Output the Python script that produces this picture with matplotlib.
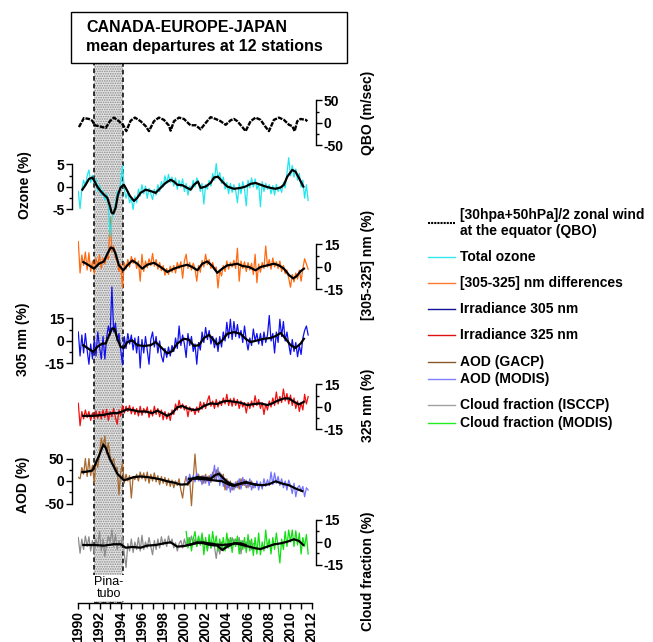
import numpy as np
import matplotlib
matplotlib.use("Agg")
import matplotlib.pyplot as plt
from matplotlib.patches import Rectangle
from matplotlib.lines import Line2D

plt.rcParams['font.family'] = ['Liberation Sans', 'DejaVu Sans']
plt.rcParams['hatch.linewidth'] = 0.8

# ---------------- data ----------------
years_ticks = list(range(1990, 2013, 2))

qbo_year = [1990.06,1990.53,1991.0,1991.32,1991.54,1991.95,1992.58,1992.98,1993.36,1993.83,
            1994.24,1994.52,1994.93,1995.34,1995.87,1996.35,1996.66,1997.13,1997.6,1998.07,
            1998.55,1998.7,1999.02,1999.49,1999.96,2000.43,2000.59,2001.06,2001.53,2002.0,
            2002.47,2002.94,2003.41,2003.89,2004.36,2004.67,2004.99,2005.46,2005.77,2006.24,
            2006.71,2007.18,2007.66,2007.97,2008.44,2008.91,2009.38,2009.86,2010.17,2010.39,
            2010.64,2010.95,2011.43,2011.59]
qbo_val = [-9,11,9,5,-5,-7,-11,4,12,4,
           -5,-18,5,12,4,-7,-18,4,12,7,
           -6,-17,4,12,9,-2,-5,-5,-14,0,
           13,9,4,-4,6,9,4,-9,-18,4,
           12,7,-9,-18,7,12,7,-4,-7,-18,
           4,9,7,4]

# raw series, one value every 2 months
ozone_start = 1990.0
ozone_raw = [-1.0,-4.8,-0.5,1.5,0.2,2.5, 3.8,1.0,2.6,0.8,1.8,-1.0, 0.5,-1.8,-0.8,-3.0,-1.5,-4.0,
             -11.0,-6.8,-5.5,-3.8,-1.0,-2.0, 1.2,4.8,-0.5,-2.5,-1.0,-3.5, -2.5,-5.0,-2.0,-3.5,-0.5,-2.0,
             0.5,-1.5,0.2,-2.5,-0.3,-1.5, -2.8,-0.5,-1.8,0.5,-1.0,1.2, 0.0,2.5,0.8,2.8,1.0,2.2,
             0.2,2.0,-0.5,1.5,0.0,1.8, -1.0,0.8,-1.8,0.2,-0.5,1.5, 0.0,2.0,1.0,-1.0,0.8,-3.8,
             0.5,-0.5,1.5,0.2,3.0,1.5, 5.2,2.0,3.2,0.8,2.2,-0.5, 1.0,-1.5,0.8,-1.2,0.5,-0.8,
             -3.5,0.8,-1.5,1.2,-0.5,-4.2, 1.5,-0.2,2.0,0.0,1.8,-0.5, 0.8,-4.4,1.2,-1.0,0.8,-0.5,
             0.5,-1.5,0.3,-1.8,0.6,-1.0, 0.0,-1.2,1.0,-0.2,3.0,6.5, 2.5,4.8,2.2,4.0,1.5,3.0,
             0.0,1.5,-2.5,0.5,-3.0]
ozone_smooth = [(1990.38,-0.6),(1990.69,0.5),(1991.01,1.8),(1991.32,2.1),(1991.54,1.2),(1991.79,0.1),
                (1992.10,-0.9),(1992.42,-1.7),(1992.73,-2.4),(1992.98,-4.2),(1993.14,-5.7),(1993.30,-5.9),
                (1993.52,-4.6),(1993.74,-1.7),(1993.99,-0.1),(1994.30,0.5),(1994.56,-0.6),(1994.87,-2.0),
                (1995.25,-3.1),(1995.56,-2.4),(1995.87,-1.3),(1996.35,-0.6),(1996.82,-0.9),(1997.29,-1.3),
                (1997.76,-0.2),(1998.23,0.9),(1998.70,1.6),(1999.02,1.2),(1999.33,0.5),(1999.80,0.4),
                (2000.27,-0.2),(2000.59,-0.6),(2000.90,0.5),(2001.28,1.2),(2001.53,-0.2),(2002.00,0.1),
                (2002.47,0.9),(2002.79,2.1),(2003.16,2.3),(2003.57,1.2),(2004.04,0.1),(2004.67,-0.4),
                (2005.30,-0.2),(2005.77,0.1),(2006.24,0.7),(2006.71,0.9),(2007.18,0.5),(2007.66,0.1),
                (2008.13,-0.2),(2008.60,-0.4),(2009.07,-0.1),(2009.38,0.5),(2009.70,2.3),(2010.17,3.8),
                (2010.48,3.4),(2010.80,2.0),(2011.21,0.1)]

diff_start = 1990.0
diff_raw = [17.0,-4.0,8.0,1.0,10.0,-2.0, 9.5,-3.0,4.0,-4.5,6.0,0.5, 8.0,-1.0,6.0,2.0,7.5,5.0,
            33.0,10.0,14.0,6.0,4.0,-3.0, 2.0,-14.0,3.0,-1.5,5.0,0.0, 7.0,2.5,6.0,-1.0,4.0,-9.5,
            8.5,-3.0,4.0,-0.5,5.5,1.0, 9.0,0.5,5.0,-1.5,3.0,-2.5, 1.0,-5.5,-1.0,-5.0,0.5,-3.5,
            1.0,-4.0,3.0,-1.0,3.5,-7.5, 4.0,8.5,-1.0,3.0,-2.0,2.5, -1.0,-9.5,1.0,-3.5,4.5,0.0,
            8.5,1.5,5.0,-1.0,3.0,-2.0, 0.0,-14.0,-2.0,-6.0,1.0,-3.0, 4.0,-1.5,3.0,0.0,4.5,-1.0,
            12.5,-9.5,4.0,-1.0,3.5,-3.0, 3.0,-2.0,2.5,-5.0,8.5,-10.5, 2.0,-3.5,3.0,-1.0,14.0,0.0,
            5.0,-1.5,6.0,0.0,3.5,-1.0, 4.0,-3.0,1.0,-4.5,-2.0,-7.5, -13.5,-5.0,-10.0,-4.0,-8.0,-2.0,
            -9.5,-1.0,5.5,2.0,-1.5]
diff_smooth = [(1990.47,3.3),(1991.01,1.1),(1991.48,-1.1),(1991.95,2.2),(1992.42,3.7),(1992.73,8.7),
               (1993.05,13.0),(1993.30,12.4),(1993.52,8.7),(1993.83,1.1),(1994.24,-2.2),(1994.62,1.1),
               (1995.09,4.3),(1995.56,2.2),(1996.03,-1.1),(1996.50,1.5),(1997.13,2.8),(1997.76,0.0),
               (1998.39,-3.3),(1999.02,-1.1),(1999.65,0.4),(2000.27,1.5),(2000.74,0.0),(2001.22,-2.2),
               (2001.69,2.2),(2002.16,3.7),(2002.63,0.7),(2003.10,-3.9),(2003.57,-1.1),(2004.04,1.1),
               (2004.51,1.5),(2004.99,2.2),(2005.46,0.7),(2006.09,0.0),(2006.71,-2.2),(2007.18,0.0),
               (2007.81,1.1),(2008.44,2.2),(2008.91,1.1),(2009.38,-1.1),(2009.86,-5.4),(2010.26,-7.6),
               (2010.58,-6.1),(2010.96,-2.8),(2011.27,-1.1)]

irr305_start = 1990.0
irr305_raw = [6.0,-10.0,4.0,-8.0,5.0,-6.0, -15.5,-2.0,-12.0,1.0,-10.0,6.0, -4.0,-12.0,3.0,-12.0,2.0,10.0,
              4.0,36.0,6.0,12.0,0.0,5.0, -6.0,-16.0,3.0,-5.0,5.0,-2.0, 4.0,-6.0,2.0,-8.0,3.0,-18.0,
              1.0,-8.0,3.0,-6.0,-15.5,1.0, 6.0,-4.0,3.0,-8.0,0.0,-10.0, -14.0,-5.0,-11.0,-4.0,-10.0,-3.0,
              -7.0,2.0,-5.0,10.0,-3.0,4.0, -2.0,-11.0,5.0,-3.0,3.0,-7.0, -2.0,-15.5,-1.0,-6.0,6.0,-1.0,
              9.0,1.0,7.0,-2.0,3.0,-4.5, 2.0,-7.0,3.0,-4.0,6.0,0.0, 12.5,2.0,14.5,1.0,13.0,3.0,
              11.0,2.0,7.0,-1.0,10.0,0.5, -6.0,2.0,-3.0,8.0,0.0,5.0, -2.0,5.0,-3.0,6.0,-1.0,4.0,
              17.0,0.0,5.0,-8.0,6.0,-1.0, 14.5,3.0,13.0,0.0,6.0,-2.0, -9.0,1.0,-7.0,-1.0,-10.5,-3.0,
              -9.0,2.0,7.0,10.0,4.0]
irr305_smooth = [(1990.47,-2.8),(1991.01,-5.4),(1991.41,-7.2),(1991.79,-3.9),(1992.26,-1.7),(1992.58,-1.7),
                 (1992.89,3.7),(1993.20,8.5),(1993.42,8.0),(1993.68,1.5),(1993.99,-3.9),(1994.30,-4.6),
                 (1994.62,-0.7),(1995.09,0.4),(1995.56,-2.8),(1996.19,-3.3),(1996.82,-2.8),(1997.29,-0.7),
                 (1997.76,-3.9),(1998.39,-8.3),(1998.86,-6.7),(1999.33,-1.7),(1999.96,1.5),(2000.43,0.9),
                 (2000.90,-3.3),(2001.37,-2.8),(2001.84,2.0),(2002.32,4.1),(2002.79,0.4),(2003.10,-2.4),
                 (2003.57,0.4),(2004.04,4.8),(2004.67,5.9),(2005.30,4.8),(2005.77,1.5),(2006.24,-0.7),
                 (2006.87,0.4),(2007.50,1.5),(2008.13,2.0),(2008.60,3.3),(2009.07,5.4),(2009.54,1.5),
                 (2010.01,-2.8),(2010.48,-4.6),(2010.96,-1.7),(2011.27,1.5)]

irr325_start = 1990.0
irr325_raw = [2.5,-12.5,-3.0,-8.0,-2.0,-7.0, -3.0,-9.0,-4.0,-8.0,-2.5,-7.5, -3.0,-8.0,-2.0,-7.0,-1.5,-9.0,
              -3.0,-6.5,-1.0,-7.0,-11.5,-2.0, -6.0,1.0,-4.0,0.5,-3.0,1.0, -4.5,0.0,-5.0,-1.0,-6.0,0.5,
              -5.5,-1.0,-4.0,0.0,-7.0,-2.0, -6.0,0.5,-5.0,-1.0,-6.5,-2.0, -8.5,-3.0,-8.0,-4.0,-9.0,-2.0,
              -5.0,2.0,-2.0,4.5,-1.0,2.0, -2.0,1.0,-6.5,0.0,-3.0,-1.0, -5.0,0.0,-3.5,3.5,-1.5,3.0,
              -1.0,4.0,7.5,0.5,4.0,-1.0, 5.0,0.0,4.0,1.0,6.0,2.0, 8.5,1.0,5.5,0.5,6.0,1.0,
              5.0,-1.0,4.0,0.0,3.0,-4.0, 3.0,-1.0,4.0,0.0,7.5,1.0, 5.0,-1.0,3.0,-5.0,2.0,-2.0,
              4.0,0.0,6.0,1.0,10.0,2.0, 7.0,3.0,12.0,4.0,9.0,2.0, 8.0,1.0,6.0,-1.0,4.0,-3.0,
              3.0,-2.0,8.5,2.0,7.0]
irr325_smooth = [(1990.47,-5.9),(1991.48,-5.9),(1992.42,-5.2),(1993.20,-4.1),(1993.68,-4.1),(1994.15,-3.0),
                 (1994.62,-1.5),(1995.09,-2.0),(1995.72,-3.0),(1996.35,-3.0),(1996.97,-4.1),(1997.45,-2.4),
                 (1997.92,-4.1),(1998.39,-5.9),(1998.86,-4.1),(1999.33,-0.2),(1999.80,0.7),(2000.27,-0.9),
                 (2000.90,-2.0),(2001.37,-1.5),(2001.84,0.7),(2002.47,2.4),(2003.10,2.0),(2003.57,3.5),
                 (2004.04,4.1),(2004.67,3.5),(2005.30,2.8),(2005.93,1.3),(2006.56,2.0),(2007.18,2.4),
                 (2007.81,1.3),(2008.28,2.4),(2008.76,4.1),(2009.38,5.7),(2009.86,5.7),(2010.33,3.5),
                 (2010.80,1.7),(2011.27,3.5)]

aod_gacp_start = 1990.0
aod_gacp_raw = [8.0,5.0,30.0,15.0,50.0,10.0, 50.0,12.0,35.0,-5.0,45.0,30.0, 60.0,95.0,75.0,100.0,60.0,85.0,
                55.0,40.0,50.0,25.0,30.0,-30.0, 20.0,41.0,-5.0,15.0,0.0,12.0, -38.0,10.0,3.0,15.0,0.0,20.0,
                5.0,18.0,0.0,20.0,-5.0,15.0, 0.0,18.0,-2.0,12.0,-8.0,10.0, -5.0,8.0,-10.0,5.0,-12.0,2.0,
                -15.0,0.0,-10.0,5.0,-20.0,-38.0, -5.0,10.0,-10.0,2.0,-55.0,5.0, 60.0,5.0,15.0,0.0,12.0,-5.0,
                15.0,0.0,12.0,-3.0,20.0,5.0, 25.0,10.0,20.0,0.0,15.0,-20.0, 5.0,-15.0,0.0,-20.0,-5.0,-15.0,
                0.0,-18.0,5.0,-10.0,3.0,-15.0, -5.0,-12.0,0.0,-15.0]
aod_gacp_smooth = [(1990.38,19.6),(1990.85,21.0),(1991.32,23.2),(1991.54,34.0),(1991.95,56.0),(1992.36,81.0),
                   (1992.58,74.0),(1992.98,48.6),(1993.30,34.0),(1993.68,16.0),(1993.99,8.7),(1994.30,1.4),
                   (1994.78,5.1),(1995.25,8.7),(1995.87,10.1),(1996.50,8.7),(1997.13,6.5),(1997.76,3.6),
                   (1998.39,-0.7),(1999.02,-3.6),(1999.65,-8.0),(2000.27,-7.2),(2000.74,5.1),(2001.22,8.7),
                   (2001.84,7.2),(2002.47,5.1),(2002.94,13.8),(2003.26,15.9),(2003.57,8.7),(2004.04,-2.2),
                   (2004.67,-9.4),(2005.30,-5.8),(2005.77,-2.2),(2006.24,-5.8),(2006.71,-8.0)]

aod_modis_start = 2000.0 + 1/6
aod_modis_raw = [10.0,-5.0,15.0,0.0,12.0, -2.0,18.0,0.0,10.0,-8.0,12.0, -5.0,10.0,-10.0,15.0,5.0,35.0,
                 0.0,30.0,-10.0,15.0,-12.0,5.0, -20.0,0.0,-25.0,-5.0,-20.0,-2.0, -15.0,5.0,-18.0,8.0,-10.0,2.0,
                 -15.0,5.0,-20.0,-5.0,-15.0,0.0, -20.0,-2.0,-18.0,5.0,-12.0,3.0, -10.0,20.0,-8.0,18.0,-5.0,10.0,
                 -10.0,5.0,-15.0,0.0,-20.0,2.0, -10.0,-28.0,-5.0,-35.0,-15.0,-10.0, -22.0,-12.0,-35.0,-15.0,-20.0]
aod_modis_smooth = [(2000.43,5.0),(2001.22,5.0),(2002.00,3.6),(2002.79,1.4),(2003.57,-0.7),(2004.20,-8.0),
                    (2004.67,-10.9),(2005.30,-5.8),(2005.93,-3.6),(2006.71,-8.0),(2007.34,-9.4),(2007.97,-7.2),
                    (2008.60,-0.7),(2009.23,-5.8),(2009.86,-9.4),(2010.48,-16.7),(2011.11,-22.5)]

cloud_isccp_start = 1990.0
cloud_isccp_raw = [3.0,-7.5,2.0,-5.0,4.0,-3.0, 3.5,-6.0,1.0,-8.0,2.0,-3.0, 7.0,-6.0,2.0,-9.5,-2.0,4.0,
                   0.0,8.0,-3.0,5.0,-5.0,1.0, -3.0,4.0,-8.0,-17.0,-1.0,-6.0, 2.0,-7.0,0.0,-5.0,3.0,-6.0,
                   4.5,-5.0,0.0,-4.0,3.0,-3.0, -8.5,1.0,-5.0,2.0,-4.0,3.5, -2.0,2.0,-3.0,4.0,-1.0,2.0,
                   -4.0,-0.5,-6.0,-1.0,1.0,-4.0, 2.0,-3.0,3.0,-2.0,4.0,-1.0, 2.0,-3.0,3.0,-2.0,4.0,-1.0,
                   1.0,-5.0,2.0,-4.0,0.0,-3.0, -11.0,-2.0,-8.0,0.0,-6.0,-1.0, -4.0,2.0,-3.0,3.0,-2.0,2.0,
                   -1.0,3.0,-8.0,1.0,-4.0,0.0, -3.0,1.0,-5.0,-1.0]
cloud_isccp_smooth = [(1990.47,-2.0),(1991.48,-2.0),(1992.42,-2.4),(1993.36,-1.5),(1993.99,-1.5),(1994.46,-3.8),
                      (1995.09,-3.3),(1995.87,-3.8),(1996.50,-2.4),(1997.29,-2.0),(1998.07,-0.9),(1998.70,-0.2),
                      (1999.33,-3.1),(1999.96,-2.7),(2000.59,-1.6),(2001.22,-0.2),(2001.84,-0.9),(2002.47,-2.0),
                      (2003.10,-2.4),(2003.57,-5.3),(2004.04,-3.1),(2004.67,-0.9),(2005.30,-0.9),(2005.77,-2.0)]

cloud_modis_start = 2000.0 + 1/6
cloud_modis_raw = [7.0,-4.0,3.0,-6.0,2.0, 7.0,-3.0,4.0,-2.0,6.0,-8.5, 3.0,-6.0,5.0,-4.0,7.0,-3.0,
                   4.0,-6.0,2.0,-5.0,3.0,-6.0, 6.0,-4.0,3.0,-7.0,2.0,-3.0, 4.0,-8.0,1.0,-5.0,3.0,-7.0,
                   5.0,-6.0,2.0,-9.0,3.0,-8.0, 6.0,-8.5,0.0,-6.0,8.0,-4.0, 2.0,-8.0,3.0,-5.0,6.0,-3.0,
                   -14.0,2.0,-5.0,7.0,-3.0,8.0, 0.0,8.0,-3.0,7.5,-2.0,6.0, -8.0,3.0,-3.0,5.0,-8.0]
cloud_modis_smooth = [(2000.43,-2.0),(2001.06,-0.9),(2001.69,-0.2),(2002.32,-0.9),(2002.94,-1.6),(2003.57,-2.0),
                      (2004.20,-1.6),(2004.83,-0.9),(2005.46,-2.0),(2006.09,-3.1),(2006.71,-4.2),(2007.18,-4.7),
                      (2007.81,-3.1),(2008.44,-1.6),(2009.07,-0.9),(2009.70,0.2),(2010.33,1.8),(2010.80,0.7),
                      (2011.21,-2.0)]

pinatubo = (1991.5, 1994.25)

legend_entries = [
    ("[30hpa+50hPa]/2 zonal wind\nat the equator (QBO)", "black", 223, "qbo"),
    ("Total ozone", "#33e8f0", 257, None),
    ("[305-325] nm differences", "#ff7a30", 283, None),
    ("Irradiance 305 nm", "#10109a", 309, None),
    ("Irradiance 325 nm", "#e01010", 335, None),
    ("AOD (GACP)", "#8a5a2a", 362, None),
    ("AOD (MODIS)", "#8080ff", 379, None),
    ("Cloud fraction (ISCCP)", "#a0a0a0", 405, None),
    ("Cloud fraction (MODIS)", "#22ee22", 423, None),
]

# ---------------- figure ----------------
W, H = 653, 642
fig = plt.figure(figsize=(W / 100, H / 100), dpi=100)

def fx(px):
    return px / W

def fy(py):
    return 1 - py / H

X0, X1 = 78.3, 311.7   # pixel columns of 1990 and 2012
TOP, BOT = 63, 603

# base axes with the time axis and the Pinatubo band
ax0 = fig.add_axes([fx(X0), fy(BOT), fx(X1) - fx(X0), (BOT - TOP) / H])
ax0.set_xlim(1990, 2012)
ax0.set_ylim(0, 1)
ax0.patch.set_visible(False)
for s in ['top', 'left', 'right']:
    ax0.spines[s].set_visible(False)
ax0.spines['bottom'].set_linewidth(1.0)
ax0.set_yticks([])
ax0.set_xticks(years_ticks)
ax0.set_xticks(range(1990, 2013), minor=True)
ax0.set_xticklabels([str(y) for y in years_ticks], rotation=90, fontsize=10, fontweight='bold')
ax0.tick_params(axis='x', which='major', direction='out', length=4, width=1, pad=2)
ax0.tick_params(axis='x', which='minor', direction='out', length=4, width=1)
ax0.add_patch(Rectangle((pinatubo[0], 0), pinatubo[1] - pinatubo[0], 1,
                        facecolor='#e4e4e4', edgecolor='#8a8a8a', hatch='.......', lw=0, zorder=0))
ax0.add_patch(Rectangle((pinatubo[0], 0), pinatubo[1] - pinatubo[0], 1,
                        fill=False, edgecolor='black', lw=1.1, linestyle=(0, (3, 2)), zorder=1))
ax0.text(sum(pinatubo) / 2, (BOT - 588) / (BOT - TOP), "Pina-\ntubo", ha='center', va='center',
         fontsize=9, linespacing=1.1,
         bbox=dict(facecolor='white', edgecolor='none', pad=0.5))


def panel(y0, s, side, T, label, lab_xy):
    half = 75
    ax = fig.add_axes([fx(X0), fy(y0 + half), fx(X1) - fx(X0), 2 * half / H])
    ax.set_xlim(1990, 2012)
    ax.set_ylim(-half / s, half / s)
    ax.patch.set_visible(False)
    for sp in ['top', 'bottom', 'left', 'right']:
        ax.spines[sp].set_visible(False)
    ax.set_xticks([])
    sp = ax.spines[side]
    sp.set_visible(True)
    sp.set_linewidth(1.0)
    off = (X0 - 72) * 0.72 if side == 'left' else (316 - X1) * 0.72
    sp.set_position(('outward', off))
    sp.set_bounds(-T, T)
    ax.yaxis.set_ticks_position(side)
    ax.set_yticks([-T, 0, T])
    ax.set_yticks([-T / 2, T / 2], minor=True)
    ax.set_yticklabels([str(-T), "0", str(T)], fontsize=10, fontweight='bold')
    ax.tick_params(axis='y', which='major', direction='out', length=4, width=1, pad=1.5)
    ax.tick_params(axis='y', which='minor', direction='out', length=2, width=1)
    fig.text(fx(lab_xy[0]), fy(lab_xy[1]), label, rotation=90, ha='center', va='center',
             fontsize=10, fontweight='bold')
    return ax


def xy(pairs):
    a = np.array(pairs)
    return a[:, 0], a[:, 1]


def tgrid(start, vals):
    return start + np.arange(len(vals)) / 6.0


LW_RAW = 0.9
LW_SM = 1.6

# QBO
ax = panel(123, 0.45, 'right', 50, "QBO (m/sec)", (368, 113))
ax.plot(qbo_year, qbo_val, color='black', lw=1.7, linestyle=(0, (2.0, 0.5)))

# [305-325]
ax = panel(267, 1.5, 'right', 15, "[305-325] nm (%)", (368, 265))
ax.plot(tgrid(diff_start, diff_raw), diff_raw, color='#ff6a10', lw=LW_RAW)
ax.plot(*xy(diff_smooth), color='black', lw=LW_SM)

# Ozone
ax = panel(187, 4.5, 'left', 5, "Ozone (%)", (25, 185))
ax.plot(tgrid(ozone_start, ozone_raw), ozone_raw, color='#22e6ee', lw=LW_RAW)
ax.plot(*xy(ozone_smooth), color='black', lw=LW_SM)

# 305 nm
ax = panel(341, 1.5, 'left', 15, "305 nm (%)", (23, 339))
ax.plot(tgrid(irr305_start, irr305_raw), irr305_raw, color='#1010ee', lw=LW_RAW)
ax.plot(*xy(irr305_smooth), color='black', lw=LW_SM)

# 325 nm
ax = panel(407, 1.5, 'right', 15, "325 nm (%)", (368, 405))
ax.plot(tgrid(irr325_start, irr325_raw), irr325_raw, color='#f01010', lw=LW_RAW)
ax.plot(*xy(irr325_smooth), color='black', lw=LW_SM)

# AOD
ax = panel(481, 0.45, 'left', 50, "AOD (%)", (23, 485))
ax.plot(tgrid(aod_gacp_start, aod_gacp_raw), aod_gacp_raw, color='#a8682e', lw=LW_RAW)
ax.plot(tgrid(aod_modis_start, aod_modis_raw), aod_modis_raw, color='#7272ff', lw=LW_RAW)
ax.plot(*xy(aod_gacp_smooth), color='black', lw=LW_SM)
ax.plot(*xy(aod_modis_smooth), color='black', lw=LW_SM)

# Cloud fraction
ax = panel(542, 1.5, 'right', 15, "Cloud fraction (%)", (368, 571))
ax.plot(tgrid(cloud_isccp_start, cloud_isccp_raw), cloud_isccp_raw, color='#8c8c8c', lw=LW_RAW)
ax.plot(tgrid(cloud_modis_start, cloud_modis_raw), cloud_modis_raw, color='#10e010', lw=LW_RAW)
ax.plot(*xy(cloud_isccp_smooth), color='black', lw=LW_SM)
ax.plot(*xy(cloud_modis_smooth), color='black', lw=LW_SM)

# title box
fig.add_artist(Rectangle((fx(71), fy(63)), fx(347) - fx(71), (63 - 12) / H,
                         transform=fig.transFigure, facecolor='white', edgecolor='black', lw=1.0))
fig.text(fx(86), fy(27), "CANADA-EUROPE-JAPAN", fontsize=11.5, fontweight='bold', va='center')
fig.text(fx(86), fy(47), "mean departures at 12 stations", fontsize=11.5, fontweight='bold', va='center')

# legend
for label, color, ypx, kind in legend_entries:
    if kind == "qbo":
        fig.add_artist(Line2D([fx(428), fx(455)], [fy(ypx), fy(ypx)], transform=fig.transFigure,
                              color=color, lw=1.5, linestyle=(0, (1.0, 0.5))))
    else:
        fig.add_artist(Line2D([fx(428), fx(455)], [fy(ypx), fy(ypx)], transform=fig.transFigure,
                              color=color, lw=1.0))
    fig.text(fx(460), fy(ypx), label, fontsize=10, fontweight='bold', va='center',
             linespacing=1.2)

fig.savefig("out.png", dpi=100)
